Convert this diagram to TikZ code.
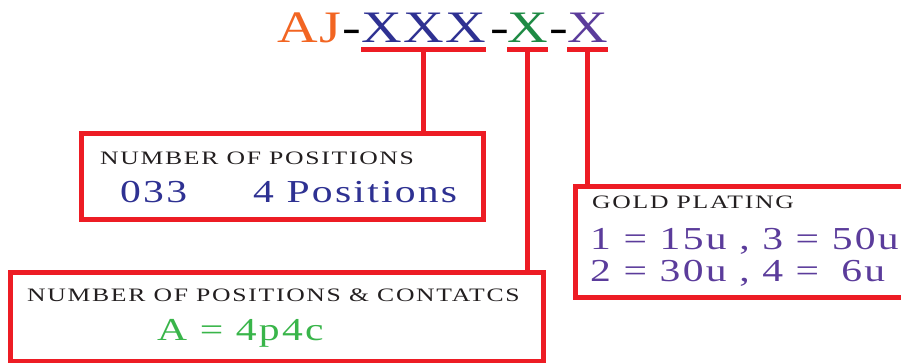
\documentclass[tikz,border=0pt]{standalone}
\usepackage{xcolor}
\usepackage{fontspec}
\usepackage{tikz}
\usetikzlibrary{positioning}
\newfontfamily\ttlfont[FakeStretch=1.25,LetterSpace=3]{Liberation Serif}
\newfontfamily\lblfont[FakeStretch=1.35,LetterSpace=9]{Liberation Serif}
\newfontfamily\valfont[FakeStretch=1.3,LetterSpace=7]{Liberation Serif}
\definecolor{pinred}{HTML}{ED1C24}
\definecolor{ajorange}{HTML}{F26522}
\definecolor{posblue}{HTML}{2E3192}
\definecolor{contgreen}{HTML}{1E8A44}
\definecolor{valgreen}{HTML}{39B54A}
\definecolor{goldpurple}{HTML}{5B3C9B}
\definecolor{lbltext}{HTML}{231F20}

\begin{document}
\begin{tikzpicture}[x=1pt, y=-1pt,
    ttl/.style = {inner sep=0, anchor=base west, font=\ttlfont\fontsize{45}{45}\selectfont},
    lbl/.style = {inner sep=0, anchor=base west, text=lbltext, font=\lblfont\fontsize{19}{19}\selectfont},
    val/.style = {inner sep=0, anchor=base west, font=\valfont\fontsize{32}{32}\selectfont},
    redbox/.style = {draw=pinred, line width=5pt, inner sep=0},
    redline/.style = {draw=pinred, line width=5pt}]
	\useasboundingbox (0,0) rectangle (901,363);
	% part number
	\node[ttl, text=ajorange] (aj) at (277,42.7) {AJ};
	\node[ttl] (d1) at (342,42.7) {-};
	\node[ttl, text=posblue] (xxx) at (361,42.7) {XXX};
	\node[ttl] (d2) at (490,42.7) {-};
	\node[ttl, text=contgreen] (xg) at (507,42.7) {X};
	\node[ttl] (d3) at (549,42.7) {-};
	\node[ttl, text=goldpurple] (xp) at (567,42.7) {X};
	% boxes
	\node[redbox, minimum width=402pt, minimum height=86pt] (posbox) at (282.5,176.5) {};
	\node[redbox, minimum width=335pt, minimum height=110.5pt] (goldbox) at (743,241.75) {};
	\node[redbox, minimum width=533pt, minimum height=89.5pt] (contbox) at (277,316.75) {};
	% box texts
	\node[lbl] (posname) at (100,164.3) {NUMBER OF POSITIONS};
	\node[val, text=posblue] (poscode) at (120,202.7) {033};
	\node[val, text=posblue] (posval) at (253,202.7) {4 Positions};
	\node[lbl] (goldname) at (592,209) {GOLD PLATING};
	\node[val, text=goldpurple] (goldone) at (590,249) {1 = 15u , 3 = 50u};
	\node[val, text=goldpurple] (goldtwo) at (590,281) {2 = 30u , 4 = \hspace{0.3em}6u};
	\node[lbl] (contname) at (27,301) {NUMBER OF POSITIONS \& CONTATCS};
	\node[val, text=valgreen] (contval) at (157,340) {A = 4p4c};
	% underlines and leaders
	\draw[redline] ([yshift=-7pt]xxx.base west) -- ([yshift=-7pt]xxx.base east);
	\draw[redline] ([yshift=-7pt]xg.base west) -- ([yshift=-7pt]xg.base east);
	\draw[redline] ([yshift=-7pt]xp.base west) -- ([yshift=-7pt]xp.base east);
	\draw[redline] ([yshift=-7pt]xxx.base) -- (xxx.base |- posbox.north);
	\draw[redline] ([yshift=-7pt]xg.base) -- (xg.base |- contbox.north);
	\draw[redline] ([yshift=-7pt]xp.base) -- (xp.base |- goldbox.north);
\end{tikzpicture}
\end{document}
